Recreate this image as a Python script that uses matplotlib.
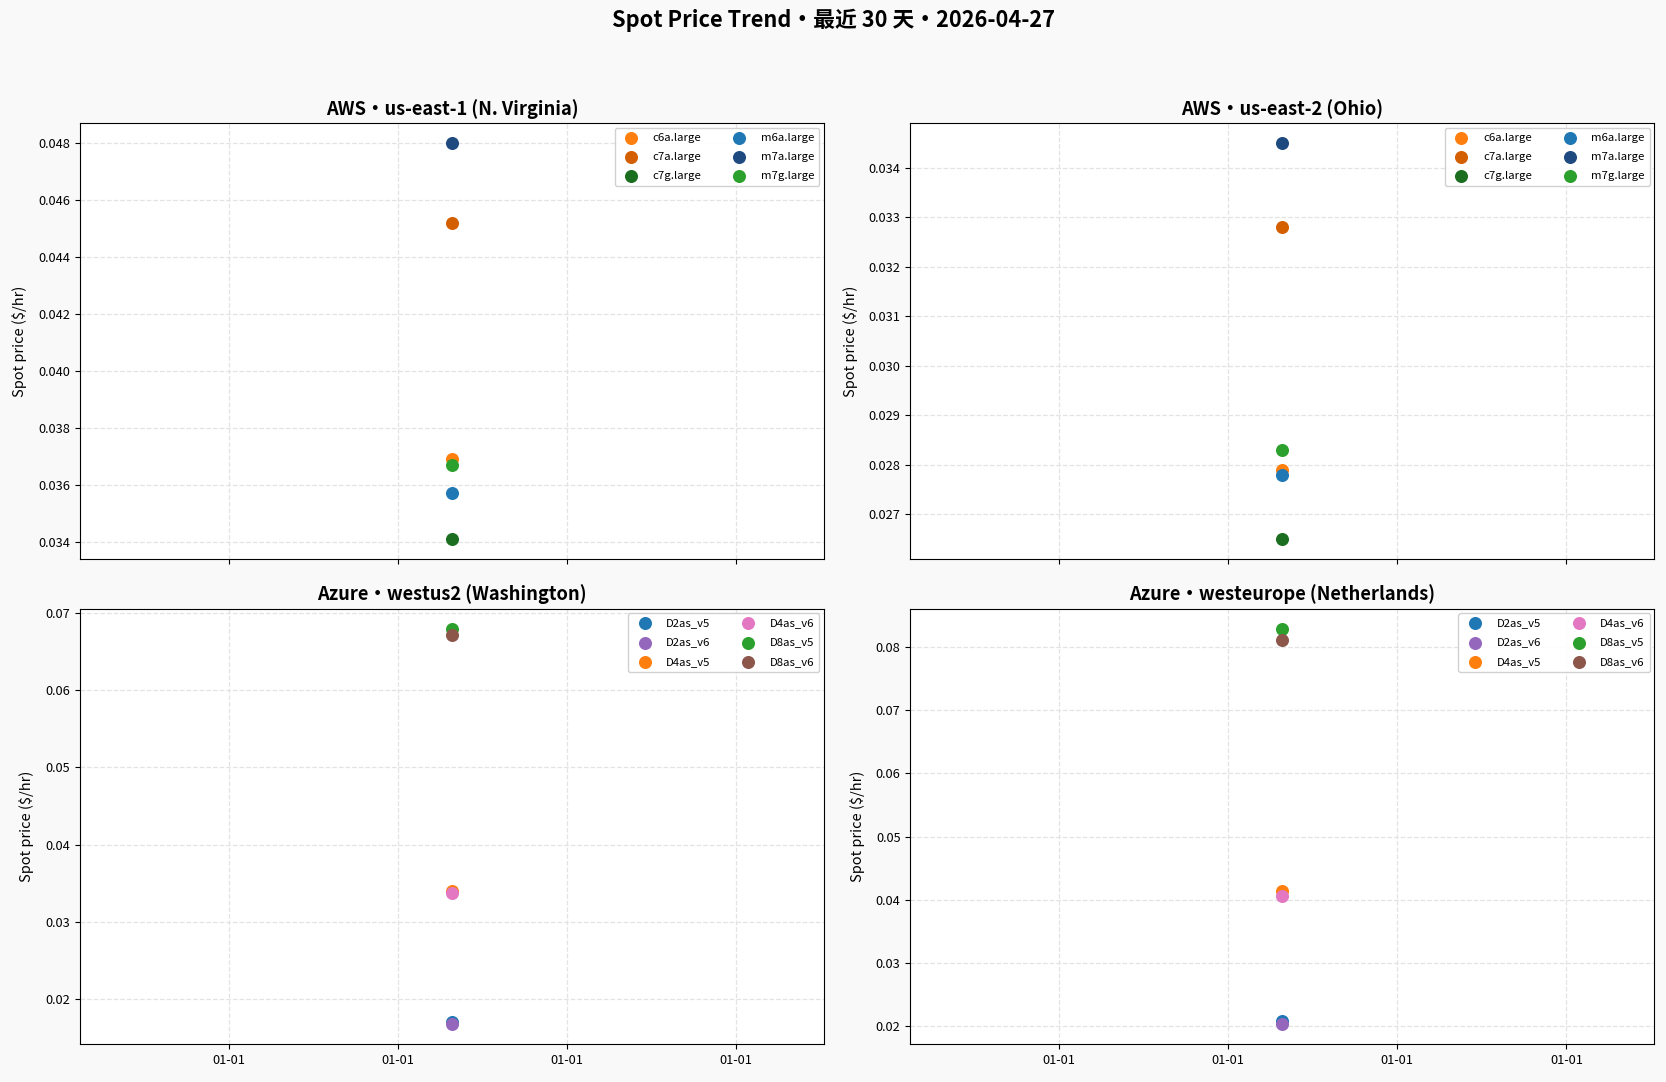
import matplotlib
matplotlib.use("Agg")
import matplotlib.pyplot as plt

plt.rcParams['font.family'] = ['Noto Sans CJK SC', 'DejaVu Sans']

# one sample per instance type (single snapshot)
snap_x = 1.32
tick_days = [0, 1, 2, 3]
tick_labels = ['01-01', '01-01', '01-01', '01-01']

aws_types = ['c6a.large', 'c7a.large', 'c7g.large', 'm6a.large', 'm7a.large', 'm7g.large']
aws_colors = ['#ff7f0e', '#d35f00', '#1b6e1f', '#1f77b4', '#1f4a80', '#2ca02c']
use1_price = [0.0369, 0.0452, 0.0341, 0.0357, 0.0480, 0.0367]
use2_price = [0.0279, 0.0328, 0.0265, 0.0278, 0.0345, 0.0283]

az_types = ['D2as_v5', 'D2as_v6', 'D4as_v5', 'D4as_v6', 'D8as_v5', 'D8as_v6']
az_colors = ['#1f77b4', '#9467bd', '#ff7f0e', '#e377c2', '#2ca02c', '#8c564b']
wus2_price = [0.0170, 0.0167, 0.0340, 0.0337, 0.0680, 0.0672]
weu_price = [0.0208, 0.0203, 0.0414, 0.0406, 0.0829, 0.0811]

panels = [
    ('AWS・us-east-1 (N. Virginia)', aws_types, aws_colors, use1_price),
    ('AWS・us-east-2 (Ohio)', aws_types, aws_colors, use2_price),
    ('Azure・westus2 (Washington)', az_types, az_colors, wus2_price),
    ('Azure・westeurope (Netherlands)', az_types, az_colors, weu_price),
]

fig, axes = plt.subplots(2, 2, figsize=(16.66, 10.82), dpi=100, sharex=True)
fig.patch.set_facecolor('#f9f9f9')
fig.subplots_adjust(left=0.048, right=0.993, top=0.886, bottom=0.035,
                    wspace=0.116, hspace=0.115)

for ax, (title, names, colors, prices) in zip(axes.flat, panels):
    for name, c, p in zip(names, colors, prices):
        ax.scatter([snap_x], [p], s=70, color=c, label=name, zorder=3)
    ax.set_title(title, fontsize=13.2, fontweight='bold')
    ax.set_ylabel('Spot price ($/hr)', fontsize=10.5, labelpad=8)
    ax.grid(True, linestyle='--', color='#e3e3e3', linewidth=0.9)
    ax.set_axisbelow(True)
    ax.tick_params(labelsize=9.2)
    ax.legend(ncol=2, fontsize=8.2, loc='upper right', framealpha=0.9,
              borderpad=0.45, labelspacing=0.8, columnspacing=2.3,
              handletextpad=0.9, borderaxespad=0.4)
    for s in ax.spines.values():
        s.set_color('black')

axes[0, 0].set_xlim(snap_x - 2.2, snap_x + 2.2)
axes[1, 0].set_xticks(tick_days)
axes[1, 0].set_xticklabels(tick_labels)
axes[1, 1].set_xticks(tick_days)
axes[1, 1].set_xticklabels(tick_labels)

fig.suptitle('Spot Price Trend・最近 30 天・2026-04-27', fontsize=15.7,
             fontweight='bold', y=0.992)

fig.savefig('out.png', dpi=100, facecolor=fig.get_facecolor())
